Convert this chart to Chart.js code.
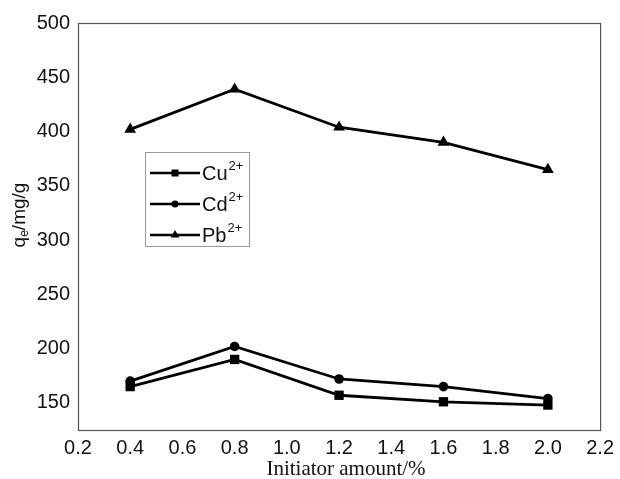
<!DOCTYPE html>
<html>
<head>
<meta charset="utf-8">
<script src="https://cdn.jsdelivr.net/npm/chart.js@4.4.1/dist/chart.umd.min.js"></script>
<style>
  html, body { margin: 0; padding: 0; background: #fff; }
  #wrap { width: 620px; height: 479px; }
</style>
</head>
<body>
<div id="wrap"><canvas id="chart"></canvas></div>
<script>
// data
const initiator = [0.4, 0.8, 1.2, 1.6, 2.0];
const cuValues = [165, 190, 157, 151, 148];
const cdValues = [170, 202, 172, 165, 154];
const pbValues = [402, 439, 404, 390, 365];

const xTicks = [0.2, 0.4, 0.6, 0.8, 1.0, 1.2, 1.4, 1.6, 1.8, 2.0, 2.2];
const yTicks = [150, 200, 250, 300, 350, 400, 450, 500];

const seriesNames = [["Cu", "2+"], ["Cd", "2+"], ["Pb", "2+"]];
const seriesStyles = ["rect", "circle", "triangle"];
const seriesRadius = [6.6, 4.8, 6.8];

function toPoints(values){
    return initiator.map((x, i) => ({ x: x, y: values[i] }));
}

const sansFont = "'Liberation Sans', Arial, sans-serif";
const serifFont = "'Liberation Serif', 'Times New Roman', serif";

// box around the plot area
const frame = {
    id: "frame",
    afterDraw(chart){
        const a = chart.chartArea;
        const ctx = chart.ctx;
        ctx.save();
        ctx.strokeStyle = "#555";
        ctx.lineWidth = 1.2;
        ctx.strokeRect(a.left + 0.5, a.top + 0.5, a.right - a.left, a.bottom - a.top);
        ctx.restore();
    }
};

// axis titles (y has a subscript e)
const axisTitles = {
    id: "axisTitles",
    afterDraw(chart){
        const ctx = chart.ctx;
        ctx.save();
        ctx.fillStyle = "#111";
        ctx.textBaseline = "middle";
        ctx.textAlign = "center";
        ctx.font = "21px " + serifFont;
        ctx.fillText("Initiator amount/%", 346, 469);

        ctx.translate(20, 215);
        ctx.rotate(-Math.PI / 2);
        ctx.font = "19px " + sansFont;
        const w1 = ctx.measureText("q").width;
        ctx.font = "12px " + sansFont;
        const w2 = ctx.measureText("e").width;
        ctx.font = "19px " + sansFont;
        const w3 = ctx.measureText("/mg/g").width;
        let x = -(w1 + w2 + w3) / 2;
        ctx.textAlign = "left";
        ctx.fillText("q", x, 0);
        x += w1;
        ctx.font = "12px " + sansFont;
        ctx.fillText("e", x, 5);
        x += w2;
        ctx.font = "19px " + sansFont;
        ctx.fillText("/mg/g", x, 0);
        ctx.restore();
    }
};

// legend box inside the plot
const boxLegend = {
    id: "boxLegend",
    afterDraw(chart){
        const ctx = chart.ctx;
        ctx.save();
        ctx.strokeStyle = "#999";
        ctx.lineWidth = 1;
        ctx.strokeRect(145.5, 152.5, 104, 94);
        const rows = [173, 204, 235];
        rows.forEach((y, i) => {
            ctx.strokeStyle = "#000";
            ctx.lineWidth = 2.6;
            ctx.beginPath();
            ctx.moveTo(150, y);
            ctx.lineTo(200, y);
            ctx.stroke();
            ctx.fillStyle = "#000";
            Chart.helpers.drawPoint(ctx, {
                pointStyle: seriesStyles[i],
                radius: seriesRadius[i] * 0.75,
                rotation: 0,
                borderWidth: 0
            }, 175, y);
            ctx.fillStyle = "#111";
            ctx.textAlign = "left";
            ctx.textBaseline = "middle";
            ctx.font = "20px " + sansFont;
            ctx.fillText(seriesNames[i][0], 202, y + 1);
            const w = ctx.measureText(seriesNames[i][0]).width;
            ctx.font = "13px " + sansFont;
            ctx.fillText(seriesNames[i][1], 202 + w + 1, y - 7);
        });
        ctx.restore();
    }
};

function makeSet(label, values, i){
    return {
        label: label,
        data: toPoints(values),
        borderColor: "#000",
        backgroundColor: "#000",
        borderWidth: 2.8,
        pointStyle: seriesStyles[i],
        pointRadius: seriesRadius[i],
        pointBorderWidth: 0,
        pointBackgroundColor: "#000",
        tension: 0
    };
}

new Chart(document.getElementById("chart"), {
    type: "line",
    data: {
        datasets: [
            makeSet("Cu2+", cuValues, 0),
            makeSet("Cd2+", cdValues, 1),
            makeSet("Pb2+", pbValues, 2)
        ]
    },
    options: {
        responsive: true,
        maintainAspectRatio: false,
        animation: false,
        layout: { padding: { top: 23, right: 19, left: 0, bottom: 0 } },
        plugins: {
            legend: { display: false },
            tooltip: { enabled: false }
        },
        scales: {
            x: {
                type: "linear",
                min: 0.2,
                max: 2.2,
                afterBuildTicks: axis => { axis.ticks = xTicks.map(v => ({ value: v })); },
                afterFit: axis => { axis.height = 49; },
                grid: { display: false, drawTicks: false },
                border: { display: false },
                ticks: {
                    padding: 6,
                    color: "#111",
                    font: { family: sansFont, size: 20 },
                    callback: v => v.toFixed(1)
                }
            },
            y: {
                min: 125,
                max: 500,
                afterBuildTicks: axis => { axis.ticks = yTicks.map(v => ({ value: v })); },
                afterFit: axis => { axis.width = 78; },
                grid: { display: false, drawTicks: false },
                border: { display: false },
                ticks: {
                    padding: 8,
                    color: "#111",
                    font: { family: sansFont, size: 20 }
                }
            }
        }
    },
    plugins: [frame, axisTitles, boxLegend]
});
</script>
</body>
</html>
